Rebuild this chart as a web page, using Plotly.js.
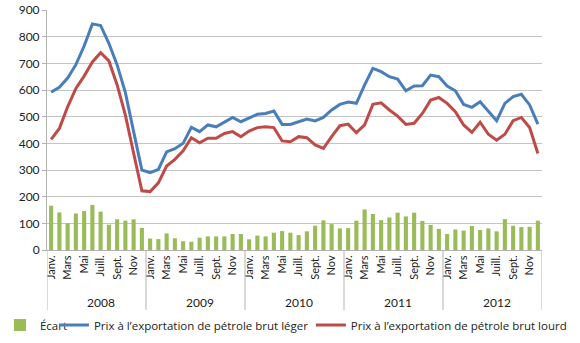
<!DOCTYPE html>
<html>
<head>
<meta charset="utf-8">
<script src="https://cdn.plot.ly/plotly-3.0.1.min.js"></script>
<style>
  html, body { margin: 0; padding: 0; background: #fff; }
  #chart { width: 580px; height: 343px; }
</style>
</head>
<body>
<div id="chart"></div>
<script>
// Monthly data, Jan 2008 - Dec 2012
const years = ["2008", "2009", "2010", "2011", "2012"];
const monthLabels = ["Janv.", "", "Mars", "", "Mai", "", "Juill.", "", "Sept.", "", "Nov", ""];

const ecart = [
  166, 141, 100, 137, 146, 169, 144, 95, 115, 110, 115, 83,
  43, 41, 62, 44, 33, 31, 46, 51, 51, 51, 60, 60,
  40, 54, 51, 65, 71, 65, 56, 70, 91, 111, 97, 81,
  82, 110, 152, 135, 112, 122, 140, 126, 140, 109, 94, 79,
  60, 77, 73, 90, 75, 81, 70, 116, 91, 86, 87, 110
];

const prixLeger = [
  592, 610, 645, 695, 765, 848, 842, 775, 694, 590, 444, 300,
  290, 302, 368, 380, 400, 460, 444, 469, 462, 481, 497, 481,
  494, 509, 512, 521, 471, 471, 481, 491, 484, 497, 525, 546,
  555, 550, 619, 681, 669, 650, 641, 597, 615, 616, 656, 650,
  615, 597, 546, 535, 556, 519, 485, 550, 575, 584, 544, 472
];

const prixLourd = [
  415, 456, 537, 606, 652, 705, 740, 709, 619, 506, 363, 222,
  219, 252, 315, 340, 372, 421, 402, 419, 419, 437, 444, 425,
  446, 459, 462, 459, 409, 406, 425, 421, 394, 381, 425, 466,
  472, 440, 469, 546, 552, 525, 502, 471, 475, 512, 562, 572,
  550, 519, 469, 441, 479, 434, 412, 434, 485, 497, 459, 362
];

const FONT = "Lato, 'Open Sans', sans-serif";
const LEGEND_FONT = { family: "'Open Sans', sans-serif", size: 11.5, color: "#222" };
const xs = ecart.map((_, i) => i);

// tick labels: month names every other month, repeated each year
const tickvals = [];
const ticktext = [];
years.forEach((y, k) => {
  monthLabels.forEach((m, j) => {
    if (m) {
      tickvals.push(k * 12 + j);
      ticktext.push(m);
    }
  });
});

const traces = [
  {
    x: xs,
    y: ecart,
    name: "Écart",
    type: "bar",
    marker: { color: "#9bbb59" },
    legend: "legend"
  },
  {
    x: xs,
    y: prixLeger,
    name: "Prix à l’exportation de pétrole brut léger",
    type: "scatter",
    mode: "lines",
    line: { color: "#4a7ebb", width: 3 },
    legend: "legend2"
  },
  {
    x: xs,
    y: prixLourd,
    name: "Prix à l’exportation de pétrole brut lourd",
    type: "scatter",
    mode: "lines",
    line: { color: "#be4b48", width: 3 },
    legend: "legend3"
  }
];

// year separators below the axis, and year labels
const shapes = [];
const annotations = [];
for (let k = 0; k <= years.length; k++) {
  shapes.push({
    type: "line",
    xref: "x", yref: "paper",
    x0: k * 12 - 0.5, x1: k * 12 - 0.5,
    y0: -0.25, y1: 0,
    line: { color: "#b3b3b3", width: 1 }
  });
}
years.forEach((y, k) => {
  annotations.push({
    xref: "x", yref: "paper",
    x: k * 12 + 6, y: -0.217,
    text: y,
    showarrow: false,
    yanchor: "middle",
    font: { family: FONT, size: 12, color: "#222" }
  });
});

// one legend box per entry so each can sit where the original has it
function legendAt(x) {
  return {
    orientation: "h",
    x: x,
    xanchor: "left",
    y: -0.3125,
    yanchor: "middle",
    font: LEGEND_FONT,
    bgcolor: "rgba(0,0,0,0)"
  };
}

const layout = {
  width: 580,
  height: 343,
  margin: { l: 47, r: 38, t: 10, b: 93, autoexpand: false },
  paper_bgcolor: "#fff",
  plot_bgcolor: "#fff",
  font: { family: FONT, size: 11, color: "#222" },
  bargap: 0.5,
  showlegend: true,
  legend: legendAt(-0.095),
  legend2: legendAt(0.014),
  legend3: legendAt(0.533),
  xaxis: {
    range: [-0.5, 59.5],
    tickmode: "array",
    tickvals: tickvals,
    ticktext: ticktext,
    tickangle: -90,
    showgrid: false,
    zeroline: false,
    showline: true,
    linecolor: "#b3b3b3",
    ticks: "",
    tickfont: { family: FONT, size: 11, color: "#222" },
    fixedrange: true
  },
  yaxis: {
    range: [0, 900],
    dtick: 100,
    showgrid: true,
    gridcolor: "#c4c4c4",
    gridwidth: 1,
    zeroline: false,
    showline: true,
    linecolor: "#b3b3b3",
    ticks: "outside",
    ticklen: 4,
    tickcolor: "#b3b3b3",
    tickfont: { family: FONT, size: 12, color: "#222" },
    fixedrange: true
  },
  shapes: shapes,
  annotations: annotations
};

Plotly.newPlot("chart", traces, layout, { displayModeBar: false, staticPlot: true });
</script>
</body>
</html>
